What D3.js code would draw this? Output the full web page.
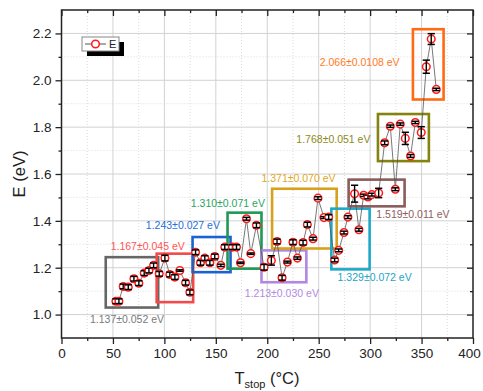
<!DOCTYPE html>
<html>
<head>
<meta charset="utf-8">
<script src="https://cdn.jsdelivr.net/npm/d3@7"></script>
<style>
  body { margin: 0; background: #fff; }
  text { font-family: "Liberation Sans", Arial, sans-serif; }
</style>
</head>
<body>
<script>
// measured activation energies vs stop temperature
const tStop = [52.9, 55.8, 60.0, 64.9, 70.4, 75.2, 80.4, 85.0, 89.5,
  95.0, 100.5, 105.3, 110.2, 115.0, 120.6, 124.8,
  130.3, 135.1, 139.3, 144.2, 149.0, 154.9, 158.7,
  166.2, 170.1, 174.0, 179.8, 184.0, 189.5,
  196.9, 204.0, 209.5, 214.4, 219.6, 225.0, 229.3,
  234.8, 239.0, 244.5, 249.3, 255.1, 259.7,
  265.5, 269.4, 274.6, 278.4, 284.9, 289.1,
  293.7, 297.9, 301.7, 308.3, 314.1, 319.6, 324.5,
  329.3, 334.2, 339.3, 343.9, 349.7, 354.6, 359.4, 364.3];
const energy = [1.057, 1.057, 1.120, 1.117, 1.153, 1.134, 1.177, 1.188, 1.210,
  1.174, 1.241, 1.171, 1.160, 1.188, 1.136, 1.095,
  1.266, 1.221, 1.241, 1.221, 1.248, 1.210, 1.288,
  1.288, 1.288, 1.221, 1.409, 1.260, 1.381,
  1.202, 1.231, 1.312, 1.157, 1.224, 1.309, 1.241,
  1.307, 1.384, 1.324, 1.497, 1.414, 1.416,
  1.233, 1.274, 1.350, 1.416, 1.516, 1.362,
  1.509, 1.502, 1.512, 1.519, 1.733, 1.804, 1.535,
  1.813, 1.752, 1.677, 1.820, 1.777, 2.058, 2.176, 1.961];
const energyErr = [0.01, 0.01, 0.01, 0.01, 0.01, 0.01, 0.01, 0.01, 0.01,
  0.01, 0.012, 0.01, 0.01, 0.003, 0.01, 0.01,
  0.01, 0.01, 0.01, 0.01, 0.01, 0.005, 0.01,
  0.01, 0.01, 0.003, 0.006, 0.003, 0.01,
  0.012, 0.02, 0.01, 0.01, 0.004, 0.01, 0.005,
  0.01, 0.01, 0.006, 0.006, 0.004, 0.01,
  0.008, 0.006, 0.006, 0.006, 0.036, 0.006,
  0.005, 0.008, 0.006, 0.02, 0.008, 0.005, 0.006,
  0.005, 0.026, 0.006, 0.005, 0.025, 0.028, 0.023, 0.005];

// fitted segments: label, T range, E range, label anchor (data units)
const fitText = ['1.137±0.052 eV', '1.167±0.045 eV', '1.243±0.027 eV', '1.310±0.071 eV',
  '1.213±0.030 eV', '1.371±0.070 eV', '1.329±0.072 eV', '1.519±0.011 eV',
  '1.768±0.051 eV', '2.066±0.0108 eV'];
const fitT = [[43, 94], [92.5, 128], [127.4, 164.3], [161.4, 194.4], [194.4, 238],
  [204.7, 267.5], [262.3, 299.5], [279.1, 333.5], [307.6, 357.1], [341.6, 371.4]];
const fitE = [[1.03, 1.245], [1.053, 1.26], [1.181, 1.331], [1.196, 1.435], [1.138, 1.274],
  [1.282, 1.537], [1.193, 1.452], [1.462, 1.576], [1.655, 1.856], [1.918, 2.218]];
const fitLabelAt = [[27.7, 0.962], [47.8, 1.274], [82, 1.364], [125.7, 1.458], [178.2, 1.077],
  [194.4, 1.565], [268.4, 1.145], [306, 1.411], [228.3, 1.732], [251, 2.061]];
const boxColors = ['#666666', '#f24a4a', '#1a62d2', '#1e9a54', '#b386e0',
  '#d6a21c', '#1ea9c8', '#8a5c5c', '#85820e', '#ff6a12'];
const textColors = ['#7a7a7a', '#ff5555', '#2370e0', '#2aa462', '#b58ae2',
  '#e0a825', '#22a4c4', '#8e5e5e', '#8c8a1a', '#ff7a25'];

const xTicks = [0, 50, 100, 150, 200, 250, 300, 350, 400];
const yTicks = [1.0, 1.2, 1.4, 1.6, 1.8, 2.0, 2.2];

const width = 483, height = 391;
const pLeft = 61.5, pRight = 473, pTop = 10, pBottom = 338;

const x = d3.scaleLinear().domain([0, 400]).range([pLeft, pRight]);
const y = d3.scaleLinear().domain([0.9, 2.3]).range([pBottom, pTop]);

const xMinor = d3.range(25, 400, 50);
const yMinor = d3.range(0.9, 2.3, 0.2).map(v => +v.toFixed(1)).filter(v => v > 0.9);

const svg = d3.select('body')
  .append('svg')
  .attr('width', width)
  .attr('height', height);

// grid
const grid = svg.append('g');
grid.selectAll('.gx').data(xTicks.slice(1, -1)).join('line')
  .attr('class', 'gx')
  .attr('x1', d => x(d)).attr('x2', d => x(d))
  .attr('y1', pTop).attr('y2', pBottom)
  .attr('stroke', '#d2d2d2').attr('stroke-width', 1);
grid.selectAll('.gy').data(yTicks).join('line')
  .attr('class', 'gy')
  .attr('x1', pLeft).attr('x2', pRight)
  .attr('y1', d => y(d)).attr('y2', d => y(d))
  .attr('stroke', '#d2d2d2').attr('stroke-width', 1);
grid.selectAll('.mx').data(xMinor).join('line')
  .attr('class', 'mx')
  .attr('x1', d => x(d)).attr('x2', d => x(d))
  .attr('y1', pTop).attr('y2', pBottom)
  .attr('stroke', '#dcdcdc').attr('stroke-dasharray', '1,2');
grid.selectAll('.my').data(yMinor).join('line')
  .attr('class', 'my')
  .attr('x1', pLeft).attr('x2', pRight)
  .attr('y1', d => y(d)).attr('y2', d => y(d))
  .attr('stroke', '#dcdcdc').attr('stroke-dasharray', '1,2');

// fit boxes
svg.append('g').selectAll('rect').data(fitT).join('rect')
  .attr('x', d => x(d[0]))
  .attr('width', d => x(d[1]) - x(d[0]))
  .attr('y', (d, i) => y(fitE[i][1]))
  .attr('height', (d, i) => y(fitE[i][0]) - y(fitE[i][1]))
  .attr('fill', 'none')
  .attr('stroke', (d, i) => boxColors[i])
  .attr('stroke-width', 2.6);

// connecting line
const pts = tStop.map((t, i) => ({ t, e: energy[i], err: energyErr[i] }));
svg.append('path')
  .datum(pts)
  .attr('fill', 'none')
  .attr('stroke', '#555')
  .attr('stroke-width', 0.8)
  .attr('d', d3.line().x(d => x(d.t)).y(d => y(d.e)));

// markers
const mk = svg.append('g').selectAll('g').data(pts).join('g')
  .attr('transform', d => `translate(${x(d.t)},${y(d.e)})`);
mk.append('circle')
  .attr('r', 3.8)
  .attr('fill', '#fff')
  .attr('stroke', '#ff1a1a')
  .attr('stroke-width', 1.5);
const eb = d => y(d.e - d.err) - y(d.e);
mk.append('line')
  .attr('x1', 0).attr('x2', 0)
  .attr('y1', d => -eb(d)).attr('y2', d => eb(d))
  .attr('stroke', '#000').attr('stroke-width', 1.4);
mk.append('line')
  .attr('x1', -3.6).attr('x2', 3.6)
  .attr('y1', d => -eb(d)).attr('y2', d => -eb(d))
  .attr('stroke', '#000').attr('stroke-width', 1.5);
mk.append('line')
  .attr('x1', -3.6).attr('x2', 3.6)
  .attr('y1', d => eb(d)).attr('y2', d => eb(d))
  .attr('stroke', '#000').attr('stroke-width', 1.5);

// fit labels
svg.append('g').selectAll('text').data(fitText).join('text')
  .attr('x', (d, i) => x(fitLabelAt[i][0]))
  .attr('y', (d, i) => y(fitLabelAt[i][1]))
  .attr('fill', (d, i) => textColors[i])
  .attr('font-size', 10.5)
  .text(d => d);

// axes
const fmtY = d3.format('.1f');
const ax = svg.append('g');

const xAxisG = ax.append('g').attr('transform', `translate(0,${pBottom})`)
  .call(d3.axisBottom(x).tickValues(xTicks).tickSize(6).tickSizeOuter(0).tickPadding(4).tickFormat(d3.format('d')));
ax.append('g').attr('transform', `translate(0,${pBottom})`)
  .call(d3.axisBottom(x).tickValues(xMinor).tickSize(3).tickSizeOuter(0).tickFormat(''));
ax.append('g').attr('transform', `translate(${pLeft},0)`)
  .call(d3.axisLeft(y).tickValues(yTicks).tickSize(6).tickSizeOuter(0).tickPadding(4).tickFormat(fmtY));
ax.append('g').attr('transform', `translate(${pLeft},0)`)
  .call(d3.axisLeft(y).tickValues(yMinor).tickSize(3).tickSizeOuter(0).tickFormat(''));
ax.append('g').attr('transform', `translate(0,${pTop})`)
  .call(d3.axisTop(x).tickValues(xTicks).tickSize(-6).tickSizeOuter(0).tickFormat(''));
ax.append('g').attr('transform', `translate(0,${pTop})`)
  .call(d3.axisTop(x).tickValues(xMinor).tickSize(-3).tickSizeOuter(0).tickFormat(''));
ax.append('g').attr('transform', `translate(${pRight},0)`)
  .call(d3.axisRight(y).tickValues(yTicks).tickSize(-6).tickSizeOuter(0).tickFormat(''));
ax.append('g').attr('transform', `translate(${pRight},0)`)
  .call(d3.axisRight(y).tickValues(yMinor).tickSize(-3).tickSizeOuter(0).tickFormat(''));

ax.selectAll('.domain').remove();
ax.selectAll('.tick line').attr('stroke', '#222').attr('stroke-width', 1.3);
ax.selectAll('.tick text')
  .attr('fill', '#222')
  .attr('font-size', 13.5)
  .attr('font-family', '"Liberation Sans", Arial, sans-serif');

// last x label sits at the page edge, nudge it in a little
xAxisG.selectAll('.tick text').filter(d => d === 400).attr('dx', -4);

svg.append('rect')
  .attr('x', pLeft).attr('y', pTop)
  .attr('width', pRight - pLeft).attr('height', pBottom - pTop)
  .attr('fill', 'none').attr('stroke', '#222').attr('stroke-width', 1.5);

// axis titles
const xt = svg.append('text')
  .attr('x', 267).attr('y', 384)
  .attr('text-anchor', 'middle')
  .attr('font-size', 16.5)
  .attr('fill', '#222');
xt.append('tspan').text('T');
xt.append('tspan').attr('font-size', 11).attr('dy', 4).text('stop');
xt.append('tspan').attr('dy', -4).text(' (°C)');

svg.append('text')
  .attr('transform', `translate(25,${(pTop + pBottom) / 2}) rotate(-90)`)
  .attr('text-anchor', 'middle')
  .attr('font-size', 16.5)
  .attr('fill', '#222')
  .text('E (eV)');

// legend
const lg = svg.append('g').attr('transform', 'translate(82,37)');
lg.append('rect').attr('x', 5).attr('y', 5).attr('width', 37).attr('height', 14).attr('fill', '#000');
lg.append('rect').attr('width', 37).attr('height', 14).attr('fill', '#fff').attr('stroke', '#888').attr('stroke-width', 1);
lg.append('line').attr('x1', 3).attr('x2', 24).attr('y1', 7).attr('y2', 7).attr('stroke', '#555').attr('stroke-width', 1);
lg.append('circle').attr('cx', 13.5).attr('cy', 7).attr('r', 3.8)
  .attr('fill', '#fff').attr('stroke', '#ff1a1a').attr('stroke-width', 1.5);
lg.append('text').attr('x', 27).attr('y', 11).attr('font-size', 11).attr('fill', '#222').text('E');
</script>
</body>
</html>
